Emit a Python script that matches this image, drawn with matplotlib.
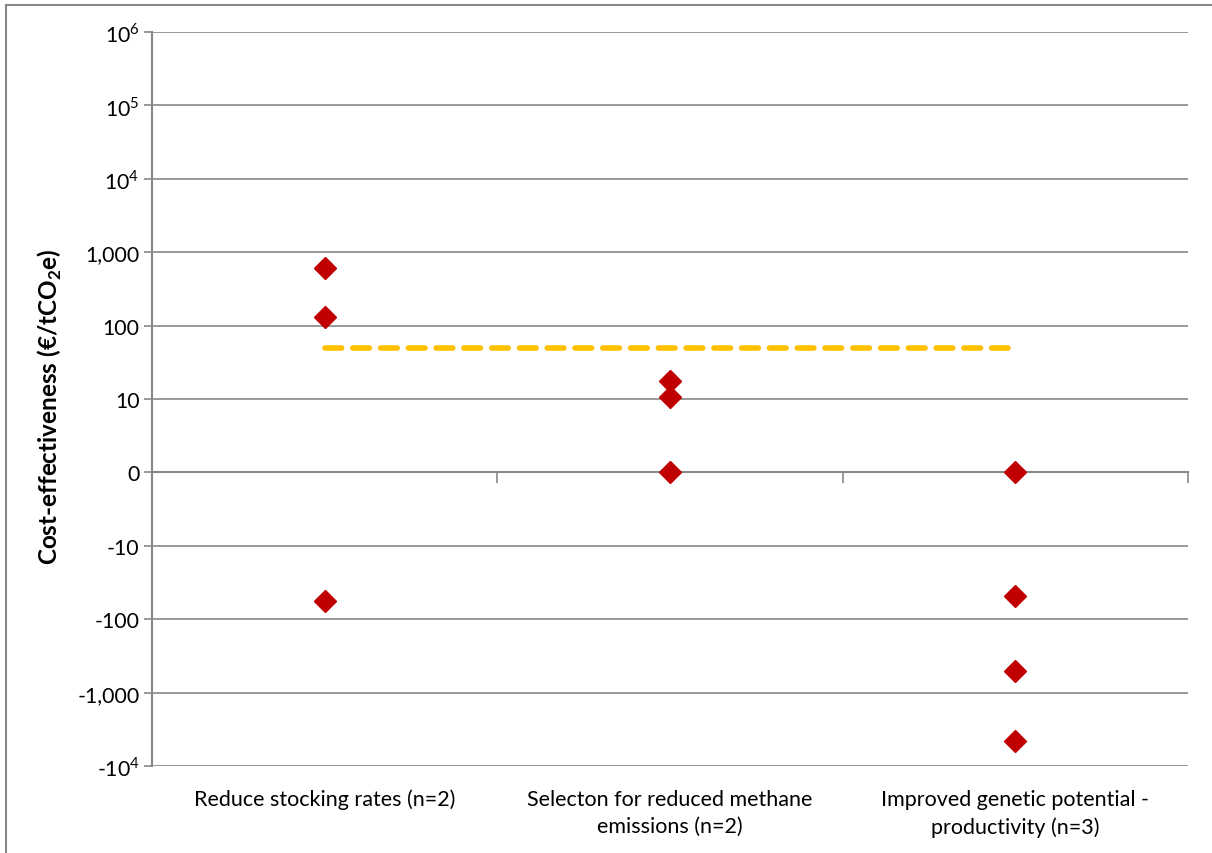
import numpy as np
import matplotlib.pyplot as plt
from matplotlib.patches import Rectangle
from matplotlib.transforms import blended_transform_factory

plt.rcParams['font.family'] = ['Lato', 'DejaVu Sans']
plt.rcParams['mathtext.fontset'] = 'custom'
plt.rcParams['mathtext.rm'] = 'Lato'
plt.rcParams['mathtext.bf'] = 'Lato:bold'

# categories and measured cost-effectiveness values (EUR/tCO2e)
categories = ["Reduce stocking rates (n=2)",
              "Selecton for reduced methane\nemissions (n=2)",
              "Improved genetic potential -\nproductivity (n=3)"]
reduce_vals = [615, 132, -56]
selection_vals = [17.7, 10.5, 0]
genetic_vals = [0, -49, -500, -4500]

# threshold line
threshold_x = [1, 2.98]
threshold_y = [50, 50]

tick_vals = [1e6, 1e5, 1e4, 1000, 100, 10, 0, -10, -100, -1000, -1e4]
tick_labels = [r"$10^{6}$", r"$10^{5}$", r"$10^{4}$", "1,000", "100", "10", "0",
               "-10", "-100", "-1,000", r"-$10^{4}$"]

grey = "#878787"
red = "#C00000"

fig = plt.figure(figsize=(12.12, 8.54), dpi=100)
ax = fig.add_axes([152 / 1212, 1 - 767 / 854, (1188 - 152) / 1212, (767 - 33) / 854])

# outer chart frame (cropped on right and bottom)
fig.patches.append(Rectangle((6 / 1212, -0.2), 1.2, 0.2 + 1 - 6 / 854, transform=fig.transFigure,
                             fill=False, edgecolor=grey, lw=1.5))

ax.set_yscale('symlog', linthresh=10, linscale=0.9)
ax.set_ylim(-1e4, 1e6)
ax.set_xlim(0.5, 3.5)
ax.set_yticks(tick_vals)
ax.set_yticklabels(tick_labels, fontsize=15.3)
ax.yaxis.set_minor_locator(plt.NullLocator())
ax.tick_params(axis='y', length=6, width=1.2, color=grey, pad=3)

for v in tick_vals:
    ax.axhline(v, color=grey, lw=1.2, zorder=1)

for s in ['top', 'right']:
    ax.spines[s].set_visible(False)
ax.spines['left'].set_color(grey)
ax.spines['left'].set_linewidth(1.5)
ax.spines['bottom'].set_position(('data', 0))
ax.spines['bottom'].set_color(grey)
ax.spines['bottom'].set_linewidth(1.5)
ax.set_xticks([1.5, 2.5, 3.5])
ax.set_xticklabels([])
ax.tick_params(axis='x', length=8, width=1.2, color=grey, direction='out')

for i, vals in enumerate([reduce_vals, selection_vals, genetic_vals]):
    ax.plot([i + 1] * len(vals), vals, linestyle='none', marker='D', ms=11,
            color=red, mec=red, zorder=4, clip_on=False)

ax.plot(threshold_x, threshold_y, color='#FFC000', lw=4, dashes=(3.0, 2.0),
        dash_capstyle='round', zorder=3)

trans = blended_transform_factory(ax.transData, ax.transAxes)
for i, lab in enumerate(categories):
    ax.text(i + 1, -0.031, lab, transform=trans, ha='center', va='top',
            fontsize=15.5, linespacing=1.45)

fig.text(50 / 1212, 1 - 407 / 854, r"Cost-effectiveness (€/tCO$_\mathbf{2}$e)",
         rotation=90, ha='center', va='center', fontsize=17.5, fontweight='bold')

fig.savefig("out.png", dpi=100)
